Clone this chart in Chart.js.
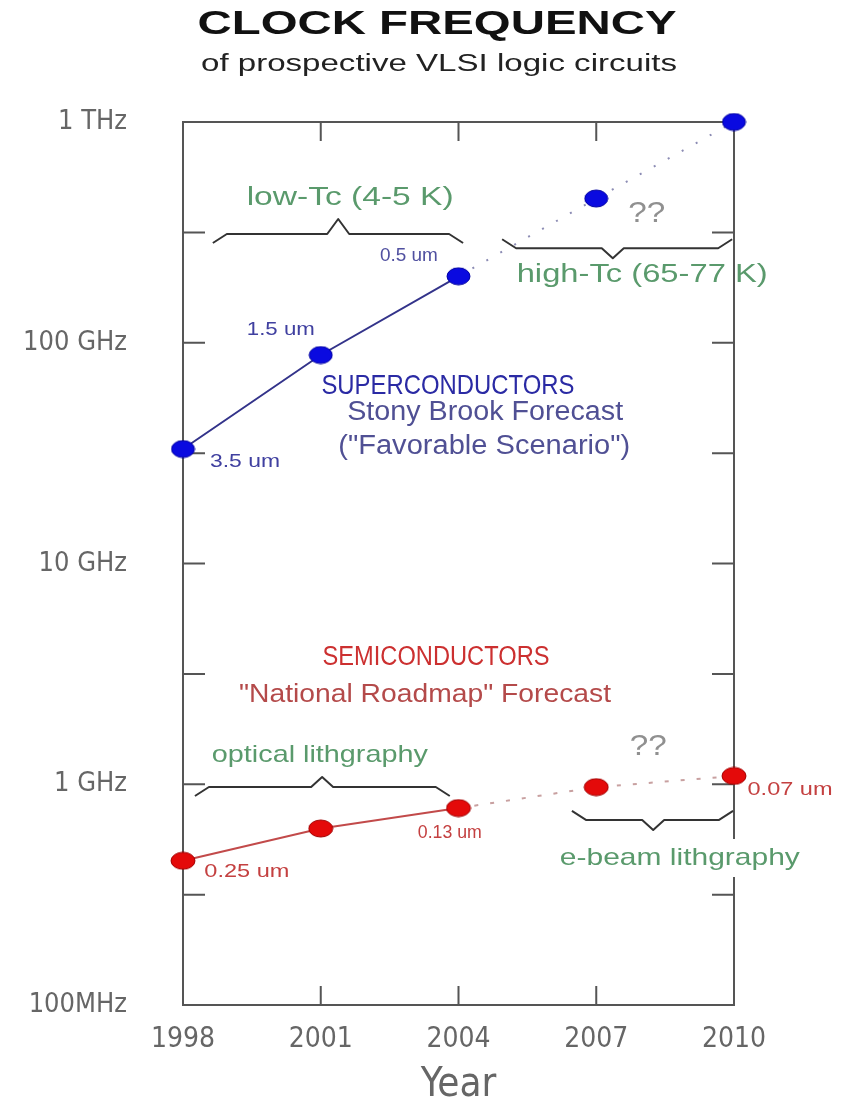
<!DOCTYPE html>
<html><head><meta charset="utf-8">
<script src="https://cdn.jsdelivr.net/npm/chart.js@4/dist/chart.umd.min.js"></script>
<style>html,body{margin:0;padding:0;background:#fff}#wrap{width:846px;height:1106px}</style>
</head><body><div id="wrap"><canvas id="c" width="846" height="1106"></canvas></div>
<script>
// ---- data ----
const years = [1998, 2001, 2004, 2007, 2010];
const superconductorGHz = [33, 88, 200, 450, 1000];
const semiconductorGHz = [0.45, 0.63, 0.78, 0.97, 1.09];
const xTickYears = [1998, 2001, 2004, 2007, 2010];
const yTickValues = [0.1, 1, 10, 100, 1000];
const yTickLabels = ['100MHz', '1 GHz', '10 GHz', '100 GHz', '1 THz'];
const yMinorTickValues = [0.3162, 3.162, 31.62, 316.2];
const forecastStartIndex = 2; // segments after 2004 are dotted forecasts

// ---- annotations (positions in data units: year, GHz) ----
const GREEN = '#5a9a6c';
const notes = [
  {text:'low-Tc (4-5 K)', year:2001.64, ghz:453, size:26, width:207, color:GREEN},
  {text:'high-Tc (65-77 K)', year:2008.0, ghz:203, size:26, width:251, color:GREEN},
  {text:'??', year:2008.10, ghz:383, size:30, width:37, color:'#909090'},
  {text:'0.5 um', year:2002.92, ghz:247, size:18, width:58, color:'#5050a0'},
  {text:'1.5 um', year:2000.13, ghz:115, size:19, width:68, color:'#4040a0'},
  {text:'3.5 um', year:1999.35, ghz:28.8, size:19, width:70, color:'#4040a0'},
  {text:'SUPERCONDUCTORS', year:2003.77, ghz:63.7, size:28, width:253, color:'#2a2aa4'},
  {text:'Stony Brook Forecast', year:2004.58, ghz:48.1, size:27, width:276, color:'#505094'},
  {text:'("Favorable Scenario")', year:2004.56, ghz:33.7, size:27, width:292, color:'#505094'},
  {text:'SEMICONDUCTORS', year:2003.51, ghz:3.73, size:27, width:227, color:'#cc3030'},
  {text:'"National Roadmap" Forecast', year:2003.27, ghz:2.54, size:26, width:372, color:'#b44a4a'},
  {text:'optical lithgraphy', year:2000.98, ghz:1.357, size:24, width:216, color:GREEN},
  {text:'0.13 um', year:2003.81, ghz:0.601, size:19, width:64, color:'#c44040'},
  {text:'0.25 um', year:1999.39, ghz:0.400, size:19, width:85, color:'#c44040'},
  {text:'??', year:2008.13, ghz:1.475, size:30, width:37, color:'#909090'},
  {text:'0.07 um', year:2011.22, ghz:0.942, size:19, width:85, color:'#c44040'},
  {text:'e-beam lithgraphy', year:2008.82, ghz:0.463, size:24, width:240, color:GREEN}
];
// braces: tip 'up' = overbrace (hooks down), 'down' = underbrace (hooks up)
const braces = [
  {x0:1998.65, x1:2004.10, tip:2001.38, ghz:311, dir:'up', tipH:15},
  {x0:2004.95, x1:2009.96, tip:2007.36, ghz:268, dir:'down', tipH:10},
  {x0:1998.26, x1:2003.81, tip:2001.03, ghz:0.972, dir:'up', tipH:10},
  {x0:2006.47, x1:2009.98, tip:2008.24, ghz:0.689, dir:'down', tipH:10}
];
const rightAxisGap = [0.376, 0.571]; // GHz range where the right frame line is knocked out

const FONT = '"Liberation Sans", Arial, sans-serif';
const AXFONT = '"Liberation Sans Narrow", "DejaVu Sans Condensed", "Liberation Sans", sans-serif';

function ellipse(fill, stroke, w, h) {
  const c = document.createElement('canvas');
  c.width = w + 2; c.height = h + 2;
  const g = c.getContext('2d');
  g.beginPath();
  g.ellipse((w + 2) / 2, (h + 2) / 2, w / 2, h / 2, 0, 0, Math.PI * 2);
  g.fillStyle = fill; g.fill();
  if (stroke) { g.strokeStyle = stroke; g.lineWidth = 1; g.stroke(); }
  return c;
}

function drawStretched(ctx, text, x, y, size, width, color, weight) {
  ctx.save();
  ctx.font = (weight || 'normal') + ' ' + size + 'px ' + FONT;
  ctx.fillStyle = color;
  ctx.textBaseline = 'middle';
  ctx.textAlign = 'center';
  const w = ctx.measureText(text).width;
  const sx = width ? width / w : 1;
  ctx.translate(x, y);
  ctx.scale(sx, 1);
  ctx.fillText(text, 0, 0);
  ctx.restore();
}

const framePlugin = {
  id: 'frame',
  beforeDatasetsDraw(chart) {
    const {ctx, chartArea: {left, right, top, bottom}, scales: {x, y}} = chart;
    ctx.save();
    ctx.strokeStyle = '#555';
    ctx.lineWidth = 2;
    ctx.lineCap = 'square';
    const gTop = y.getPixelForValue(rightAxisGap[1]);
    const gBot = y.getPixelForValue(rightAxisGap[0]);
    ctx.beginPath();
    ctx.moveTo(left, top); ctx.lineTo(right, top);
    ctx.moveTo(left, top); ctx.lineTo(left, bottom); ctx.lineTo(right, bottom);
    ctx.moveTo(right, top); ctx.lineTo(right, gTop);
    ctx.moveTo(right, gBot); ctx.lineTo(right, bottom);
    ctx.stroke();
    ctx.lineCap = 'butt';
    ctx.beginPath();
    xTickYears.forEach(v => {
      if (v <= x.min || v >= x.max) return;
      const px = x.getPixelForValue(v);
      ctx.moveTo(px, top); ctx.lineTo(px, top + 19);
      ctx.moveTo(px, bottom); ctx.lineTo(px, bottom - 19);
    });
    yTickValues.concat(yMinorTickValues).forEach(v => {
      if (v <= y.min * 1.001 || v >= y.max * 0.999) return;
      const py = y.getPixelForValue(v);
      ctx.moveTo(left, py); ctx.lineTo(left + 22, py);
      ctx.moveTo(right, py); ctx.lineTo(right - 22, py);
    });
    ctx.stroke();
    ctx.restore();
  }
};

const notesPlugin = {
  id: 'notes',
  afterDraw(chart) {
    const {ctx, scales: {x, y}} = chart;
    // title
    drawStretched(ctx, 'CLOCK FREQUENCY', 437, 25, 34, 479, '#111', 'bold');
    drawStretched(ctx, 'of prospective VLSI logic circuits', 439, 65, 23, 476, '#222');
    // braces
    ctx.save();
    ctx.strokeStyle = '#333';
    ctx.lineWidth = 2;
    ctx.lineJoin = 'round';
    braces.forEach(b => {
      const x0 = x.getPixelForValue(b.x0), x1 = x.getPixelForValue(b.x1);
      const xt = x.getPixelForValue(b.tip), yl = y.getPixelForValue(b.ghz);
      const s = b.dir === 'up' ? 1 : -1;
      const hookW = 14, hookH = 9, tipW = 11;
      ctx.beginPath();
      ctx.moveTo(x0, yl + s * hookH);
      ctx.lineTo(x0 + hookW, yl);
      ctx.lineTo(xt - tipW, yl);
      ctx.lineTo(xt, yl - s * b.tipH);
      ctx.lineTo(xt + tipW, yl);
      ctx.lineTo(x1 - hookW, yl);
      ctx.lineTo(x1, yl + s * hookH);
      ctx.stroke();
    });
    ctx.restore();
    notes.forEach(n => {
      drawStretched(ctx, n.text, x.getPixelForValue(n.year), y.getPixelForValue(n.ghz), n.size, n.width, n.color);
    });
  }
};

const blueDot = ellipse('#0a0ae0', '#0000a0', 23, 17);
const redDot = ellipse('#e40a0a', '#a00000', 24, 17);

new Chart(document.getElementById('c'), {
  type: 'line',
  data: {
    datasets: [
      {
        label: 'Superconductors',
        data: years.map((yr, i) => ({x: yr, y: superconductorGHz[i]})),
        borderColor: '#33338a',
        borderWidth: 2,
        pointStyle: blueDot,
        pointRadius: 11,
        clip: false,
        segment: {
          borderDash: c => c.p0DataIndex >= forecastStartIndex ? [2, 14] : undefined,
          borderColor: c => c.p0DataIndex >= forecastStartIndex ? '#8c8cb4' : undefined
        }
      },
      {
        label: 'Semiconductors',
        data: years.map((yr, i) => ({x: yr, y: semiconductorGHz[i]})),
        borderColor: '#c24a4a',
        borderWidth: 2,
        pointStyle: redDot,
        pointRadius: 11,
        clip: false,
        segment: {
          borderDash: c => c.p0DataIndex >= forecastStartIndex ? [4, 12] : undefined,
          borderColor: c => c.p0DataIndex >= forecastStartIndex ? '#c8a0a0' : undefined
        }
      }
    ]
  },
  options: {
    responsive: false,
    animation: false,
    layout: {padding: {top: 122, right: 112, left: 0, bottom: 0}},
    plugins: {legend: {display: false}, tooltip: {enabled: false}, title: {display: false}},
    scales: {
      x: {
        type: 'linear', min: 1998, max: 2010,
        afterBuildTicks: s => { s.ticks = xTickYears.map(v => ({value: v})); },
        afterFit: s => { s.height = 101; },
        grid: {display: false, drawTicks: false},
        border: {display: false},
        ticks: {callback: v => String(v), font: {family: AXFONT, size: 28}, color: '#666', padding: 18, maxRotation: 0, autoSkip: false},
        title: {display: true, text: 'Year', font: {family: AXFONT, size: 40, lineHeight: 1}, color: '#666', padding: {top: 0, bottom: 0}}
      },
      y: {
        type: 'logarithmic', min: 0.1, max: 1000,
        afterBuildTicks: s => { s.ticks = yTickValues.map(v => ({value: v})); },
        afterFit: s => { s.width = 183; },
        grid: {display: false, drawTicks: false},
        border: {display: false},
        ticks: {
          callback: v => {
            const i = yTickValues.findIndex(t => Math.abs(Math.log10(t) - Math.log10(v)) < 0.01);
            return i >= 0 ? yTickLabels[i] : '';
          },
          font: {family: AXFONT, size: 27}, color: '#666', padding: 56, autoSkip: false
        }
      }
    }
  },
  plugins: [framePlugin, notesPlugin]
});
</script>
</body></html>
